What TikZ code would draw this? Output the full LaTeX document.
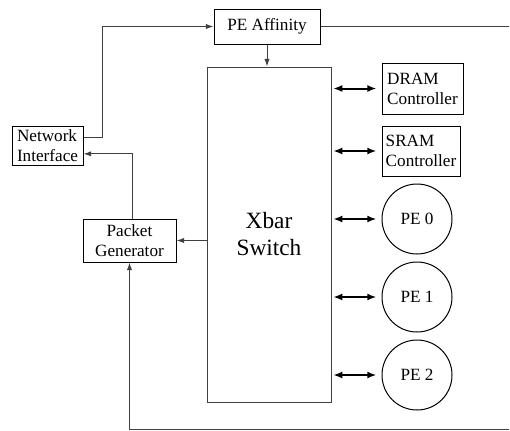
\documentclass[tikz,border=0pt]{standalone}
\usepackage{fontspec}
\setmainfont{Liberation Serif}
\usetikzlibrary{arrows.meta}

\tikzset{
  blk/.style={draw, line width=0.6pt, inner sep=1pt, font=\fontsize{10.3}{12}\selectfont},
  pe/.style={draw, circle, line width=0.6pt, minimum size=42pt, inner sep=0pt, font=\fontsize{10.3}{12}\selectfont},
  wire/.style={draw=black!75, line width=0.6pt, -{Latex[length=4.6pt,width=3.2pt]}},
  link/.style={line width=1.2pt, {Latex[length=5.5pt,width=4.2pt]}-{Latex[length=5.5pt,width=4.2pt]}}
}

\begin{document}
\begin{tikzpicture}[x=0.6pt,y=-0.6pt]
\useasboundingbox (0,0) rectangle (510,430);

\node[blk, minimum width=63.6pt, minimum height=21pt] (aff) at (267,26.5) {PE Affinity};
\node[blk, draw=black!75, minimum width=74.4pt, minimum height=201pt, align=center,
      font=\fontsize{14}{16.2}\selectfont] (xbar) at (269,234.5) {Xbar\\Switch};
\node[blk, minimum width=42.6pt, minimum height=23.4pt, align=left] (ni) at (47.5,145.5) {Network\\Interface};
\node[blk, minimum width=55.8pt, minimum height=25.8pt, align=center] (pg) at (129.5,240.5) {Packet\\Generator};
\node[blk, minimum width=48.6pt, minimum height=30.6pt, align=left] (dram) at (422.5,88.5) {DRAM\\Controller};
\node[blk, minimum width=46.8pt, minimum height=30pt, align=left] (sram) at (421,151) {SRAM\\Controller};
\node[pe] (pe0) at (417,219) {PE 0};
\node[pe] (pe1) at (417,297) {PE 1};
\node[pe] (pe2) at (417,375) {PE 2};

\coordinate (out) at (509,26.5);
\coordinate (back) at (509,429);

\draw[wire] (aff.south) -- (aff.south |- xbar.north);
\draw[wire, -] (aff.east) -- (out);
\draw[wire] ([yshift=5pt]ni.east) -- ++(19,0) |- (aff.west);
\draw[wire] ([xshift=2pt]pg.north) |- ([yshift=-5pt]ni.east);
\draw[wire] (xbar.west |- pg.east) -- (pg.east);
\draw[wire] (back) -| (pg.south);

\draw[link] ([xshift=1pt]xbar.east |- dram.west) -- ([xshift=-3pt]dram.west);
\draw[link] ([xshift=1pt]xbar.east |- sram.west) -- ([xshift=-3pt]sram.west);
\draw[link] ([xshift=1pt]xbar.east |- pe0.west) -- ([xshift=-3pt]pe0.west);
\draw[link] ([xshift=1pt]xbar.east |- pe1.west) -- ([xshift=-3pt]pe1.west);
\draw[link] ([xshift=1pt]xbar.east |- pe2.west) -- ([xshift=-3pt]pe2.west);
\end{tikzpicture}
\end{document}
